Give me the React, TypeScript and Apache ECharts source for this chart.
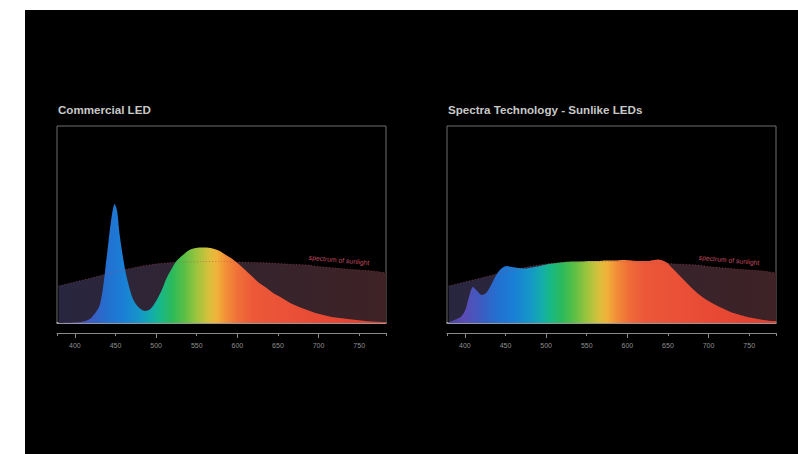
import React, { useEffect, useRef } from "react";
import * as echarts from "echarts";

// ---- data (wavelength nm, relative intensity) ----
const commercialWl = [380, 400, 410, 420, 431, 439, 445, 449, 452, 455, 460, 464, 471, 478, 486, 493, 500, 507, 513, 519, 525, 533, 541, 549, 557, 567, 578, 586, 594, 603, 611, 619, 627, 636, 644, 655, 665, 676, 686, 696, 706, 716, 726, 736, 747, 757, 767, 779, 783];
const commercialVal = [0, 0.5, 1.5, 5, 19, 65, 105, 119, 112, 89, 62, 45, 25, 16, 12, 14, 22, 33, 45, 54, 62, 68, 73, 75, 75.5, 75, 72, 68, 64, 58, 52, 46, 40, 35, 30, 25, 20, 16, 13, 10, 8, 6, 5, 4, 3, 2, 1.5, 1, 1];

const sunlikeWl = [380, 384, 390, 396, 401, 405, 410, 414, 421, 426, 431, 436, 441, 446, 451, 458, 466, 474, 482, 492, 503, 513, 523, 533, 543, 554, 564, 574, 584, 596, 605, 613, 625, 633, 638, 645, 650, 654, 660, 666, 672, 678, 686, 694, 702, 711, 719, 727, 737, 748, 758, 768, 780, 783];
const sunlikeVal = [1, 2, 4, 7, 14, 26, 36, 33, 28, 30, 36, 44, 51, 55, 57, 56, 55, 54.5, 55.5, 57, 59, 60, 61, 61.5, 61.5, 62, 62, 62.5, 62.5, 63, 62.5, 62, 62, 63, 63.5, 62, 59.5, 56, 51, 46, 41, 36, 30, 25, 21, 17, 14, 11, 8.5, 6, 4.5, 3, 2, 2];

const sunlightWl = [380, 400, 420, 439, 460, 480, 500, 520, 540, 560, 580, 600, 620, 640, 660, 686, 700, 720, 740, 767, 783];
const sunlightVal = [37, 41, 45, 49, 53, 56.5, 59, 60.5, 61, 61.5, 61.5, 61, 60.5, 60, 59, 58, 56.5, 55, 53.5, 52, 50];

const majorTicks = [400, 500, 600, 700];
const minorTicks = [450, 550, 650, 750];
const tickLabels = [400, 450, 500, 550, 600, 650, 700, 750];
const xMin = 378;
const xMax = 783;

const titles = ["Commercial LED", "Spectra Technology - Sunlike LEDs"];
const sunlightLabel = "spectrum of sunlight";

// spectrum colour stops (wavelength -> colour)
const spectrumWl = [380, 400, 420, 440, 460, 480, 495, 505, 520, 535, 550, 565, 575, 585, 600, 620, 700, 783];
const spectrumCol = ["#4e42a0", "#5a4cb6", "#3c5cc2", "#2370d0", "#1a7fd6", "#1596c8", "#14aeaa", "#18b888", "#2cba5a", "#5cbf44", "#9cc43e", "#d8c03c", "#f2b23a", "#f29238", "#f07038", "#ec5838", "#e84a35", "#e04030"];

const pair = (xs: number[], ys: number[]) => xs.map((x, i) => [x, ys[i]]);

const spectrumGradient = () =>
  new echarts.graphic.LinearGradient(
    0, 0, 1, 0,
    spectrumWl.map((w, i) => ({ offset: (w - 380) / (783 - 380), color: spectrumCol[i] }))
  );

export default function App() {
  const ref = useRef<HTMLDivElement>(null);
  useEffect(() => {
    if (!ref.current) return;
    const chart = echarts.init(ref.current, null, { renderer: "svg" });
    const FONT = "'Liberation Sans', Arial, Helvetica, sans-serif";
    const gridLefts = [32, 422];
    const grids = gridLefts.map((l) => ({
      left: l,
      top: 116,
      width: 329,
      height: 197,
      show: true,
      borderColor: "#6e6e6e",
      borderWidth: 1,
      backgroundColor: "transparent",
    }));
    const xAxes: any[] = [];
    const yAxes: any[] = [];
    [0, 1].forEach((g) => {
      // baseline
      xAxes.push({
        type: "value", gridIndex: g, min: xMin, max: xMax, position: "bottom",
        axisLine: { show: true, lineStyle: { color: "#b8b8b8", width: 1.5 } },
        axisTick: { show: false }, axisLabel: { show: false }, splitLine: { show: false },
      });
      // major ticks + labels
      xAxes.push({
        type: "value", gridIndex: g, min: xMin, max: xMax, position: "bottom", offset: 10,
        axisLine: { show: true, lineStyle: { color: "#8a8a8a", width: 1 } },
        axisTick: { show: true, customValues: majorTicks, length: 5, lineStyle: { color: "#8a8a8a" } },
        axisLabel: { show: true, customValues: tickLabels, color: "#8f8f8f", fontSize: 7, margin: 9, fontFamily: FONT },
        splitLine: { show: false },
      });
      // minor ticks + end ticks
      xAxes.push({
        type: "value", gridIndex: g, min: xMin, max: xMax, position: "bottom", offset: 10,
        axisLine: { show: false },
        axisTick: { show: true, customValues: [xMin, ...minorTicks, xMax], length: 3, lineStyle: { color: "#8a8a8a" } },
        axisLabel: { show: false }, splitLine: { show: false },
      });
      yAxes.push({ type: "value", gridIndex: g, min: 0, max: 197, show: false, splitLine: { show: false } });
    });

    const sunlightFill = () =>
      new echarts.graphic.LinearGradient(0, 0, 1, 0, [
        { offset: 0, color: "#282640" },
        { offset: 0.5, color: "#34242e" },
        { offset: 1, color: "#3e2226" },
      ]);

    const series: any[] = [];
    const ledData = [pair(commercialWl, commercialVal), pair(sunlikeWl, sunlikeVal)];
    [0, 1].forEach((g) => {
      series.push({
        type: "line", xAxisIndex: g * 3, yAxisIndex: g, data: pair(sunlightWl, sunlightVal),
        smooth: 0.3, symbol: "none", z: 1,
        lineStyle: { width: 0 }, areaStyle: { color: sunlightFill(), opacity: 1 },
      });
      series.push({
        type: "line", xAxisIndex: g * 3, yAxisIndex: g, data: ledData[g],
        smooth: 0.3, symbol: "none", z: 2,
        lineStyle: { width: 0 }, areaStyle: { color: spectrumGradient(), opacity: 1 },
      });
      series.push({
        type: "line", xAxisIndex: g * 3, yAxisIndex: g, data: pair(sunlightWl, sunlightVal),
        smooth: 0.3, symbol: "none", z: 3,
        lineStyle: { width: 1, type: [1, 2], color: "#b84858", opacity: 0.55 },
      });
    });

    chart.setOption({
      animation: false,
      backgroundColor: "#000",
      title: titles.map((t, i) => ({
        text: t, left: gridLefts[i] + 1, top: 93, padding: 0,
        textStyle: { color: "#c8c8c8", fontSize: 11.6, fontWeight: "bold", fontFamily: FONT },
      })),
      grid: grids,
      xAxis: xAxes,
      yAxis: yAxes,
      series,
      graphic: gridLefts.map((l) => ({
        type: "text",
        x: l + 282,
        y: 250,
        rotation: -0.09,
        style: {
          text: sunlightLabel, fill: "#c24a5e", fontSize: 6.8, fontFamily: FONT,
          align: "center", verticalAlign: "middle",
        },
        z: 10,
      })),
    });
    return () => chart.dispose();
  }, []);
  return (
    <div style={{ position: "absolute", left: 0, top: 0, width: 798, height: 454, background: "#fff" }}>
      <div ref={ref} style={{ position: "absolute", left: 25, top: 10, width: 773, height: 444 }} />
    </div>
  );
}
